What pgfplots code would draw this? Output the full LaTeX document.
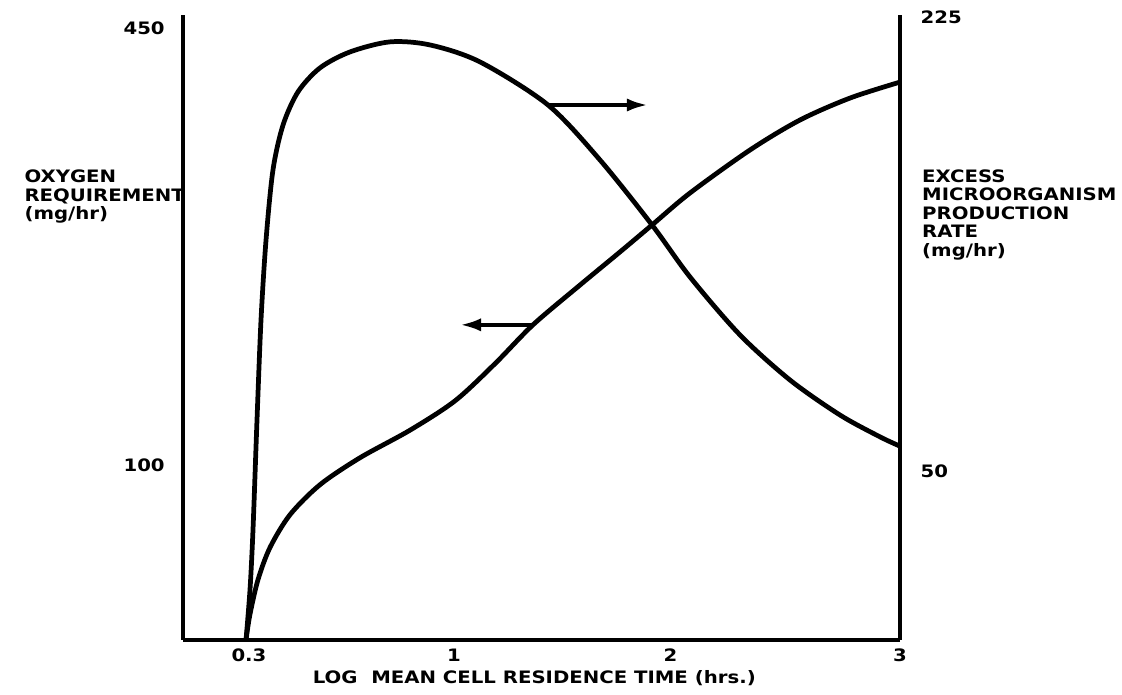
\documentclass[border=0pt]{standalone}
\usepackage{pgfplots}
\pgfplotsset{compat=1.18}
\usepackage{fontspec}
\setmainfont{DejaVu Sans}[FakeStretch=1.15]
\usetikzlibrary{arrows.meta}

\begin{document}
\begin{tikzpicture}[font=\fontsize{6.5}{7}\selectfont\bfseries]
\pgfplotsset{
  every axis/.append style={
    scale only axis, width=9.56cm, height=8.33cm,
    xmin=0, xmax=10, clip=false,
    major tick length=0, yminorticks=false, xminorticks=false,
    tick label style={font=\fontsize{6.5}{7}\selectfont\bfseries},
    /pgf/number format/assume math mode=true,
    axis line style={line width=1.4pt},
  },
  curve/.style={black, line width=1.8pt, smooth, no marks},
}
% oxygen requirement (left axis)
\begin{axis}[name=ax, ymode=log, ymin=55, ymax=470.7,
    axis x line*=bottom, axis y line*=left,
    xtick={0.92,3.78,6.8,10}, xticklabels={0.3,1,2,3},
    ytick={100,450}, yticklabels={100,450},
    yticklabel style={xshift=-0.12cm}]
\addplot[curve] coordinates {
  (0.879,55.0) (0.934,60.0) (1.046,67.6) (1.213,75.5) (1.492,84.5)
  (1.911,93.7) (2.469,102.8) (3.166,113.0) (3.794,125.0) (4.351,142.0)
  (4.881,162.3) (5.537,186.1) (6.095,208.5) (6.541,228.7) (7.071,255.3)
  (7.908,296.0) (8.605,328.1) (9.303,353.8) (10.0,373.8)
};
\draw[line width=1.5pt, -{Latex[length=8pt,width=5pt]}]
  (axis cs:4.881,162.3) -- (axis cs:3.863,162.3);
\node[anchor=west, align=left] at (rel axis cs:-0.234,0.709)
  {OXYGEN\\REQUIREMENT\\(mg/hr)};
\node at (rel axis cs:0.49,-0.061) {LOG\ \ MEAN CELL RESIDENCE TIME (hrs.)};
\end{axis}
% excess microorganism production rate (right axis)
\begin{axis}[ymode=log, ymin=28.6, ymax=226.5,
    axis x line=none, axis y line*=right,
    ytick={50,225}, yticklabels={50,225},
    yticklabel style={xshift=0.15cm}]
\addplot[curve] coordinates {
  (0.879,28.6) (0.934,33.7) (0.976,41.1) (1.032,59.2) (1.088,82.5)
  (1.158,107.5) (1.255,135.6) (1.395,157.3) (1.604,175.6) (1.911,190.1)
  (2.329,200.4) (2.887,207.2) (3.445,205.1) (4.142,193.9) (5.091,168.1)
  (5.816,140.1) (6.541,113.0) (7.071,95.1) (7.768,78.5) (8.466,67.6)
  (9.163,60.2) (9.721,56.0) (10.0,54.3)
};
\draw[line width=1.5pt, -{Latex[length=8pt,width=5pt]}]
  (axis cs:5.091,168.1) -- (axis cs:6.485,168.1);
\node[anchor=west, align=left] at (rel axis cs:1.018,0.68)
  {EXCESS\\MICROORGANISM\\PRODUCTION\\RATE\\(mg/hr)};
\end{axis}
\pgfresetboundingbox
\path ([shift={(-2.44cm,-0.733cm)}]ax.south west) rectangle ([shift={(2.96cm,0.2cm)}]ax.north east);
\end{tikzpicture}
\end{document}
